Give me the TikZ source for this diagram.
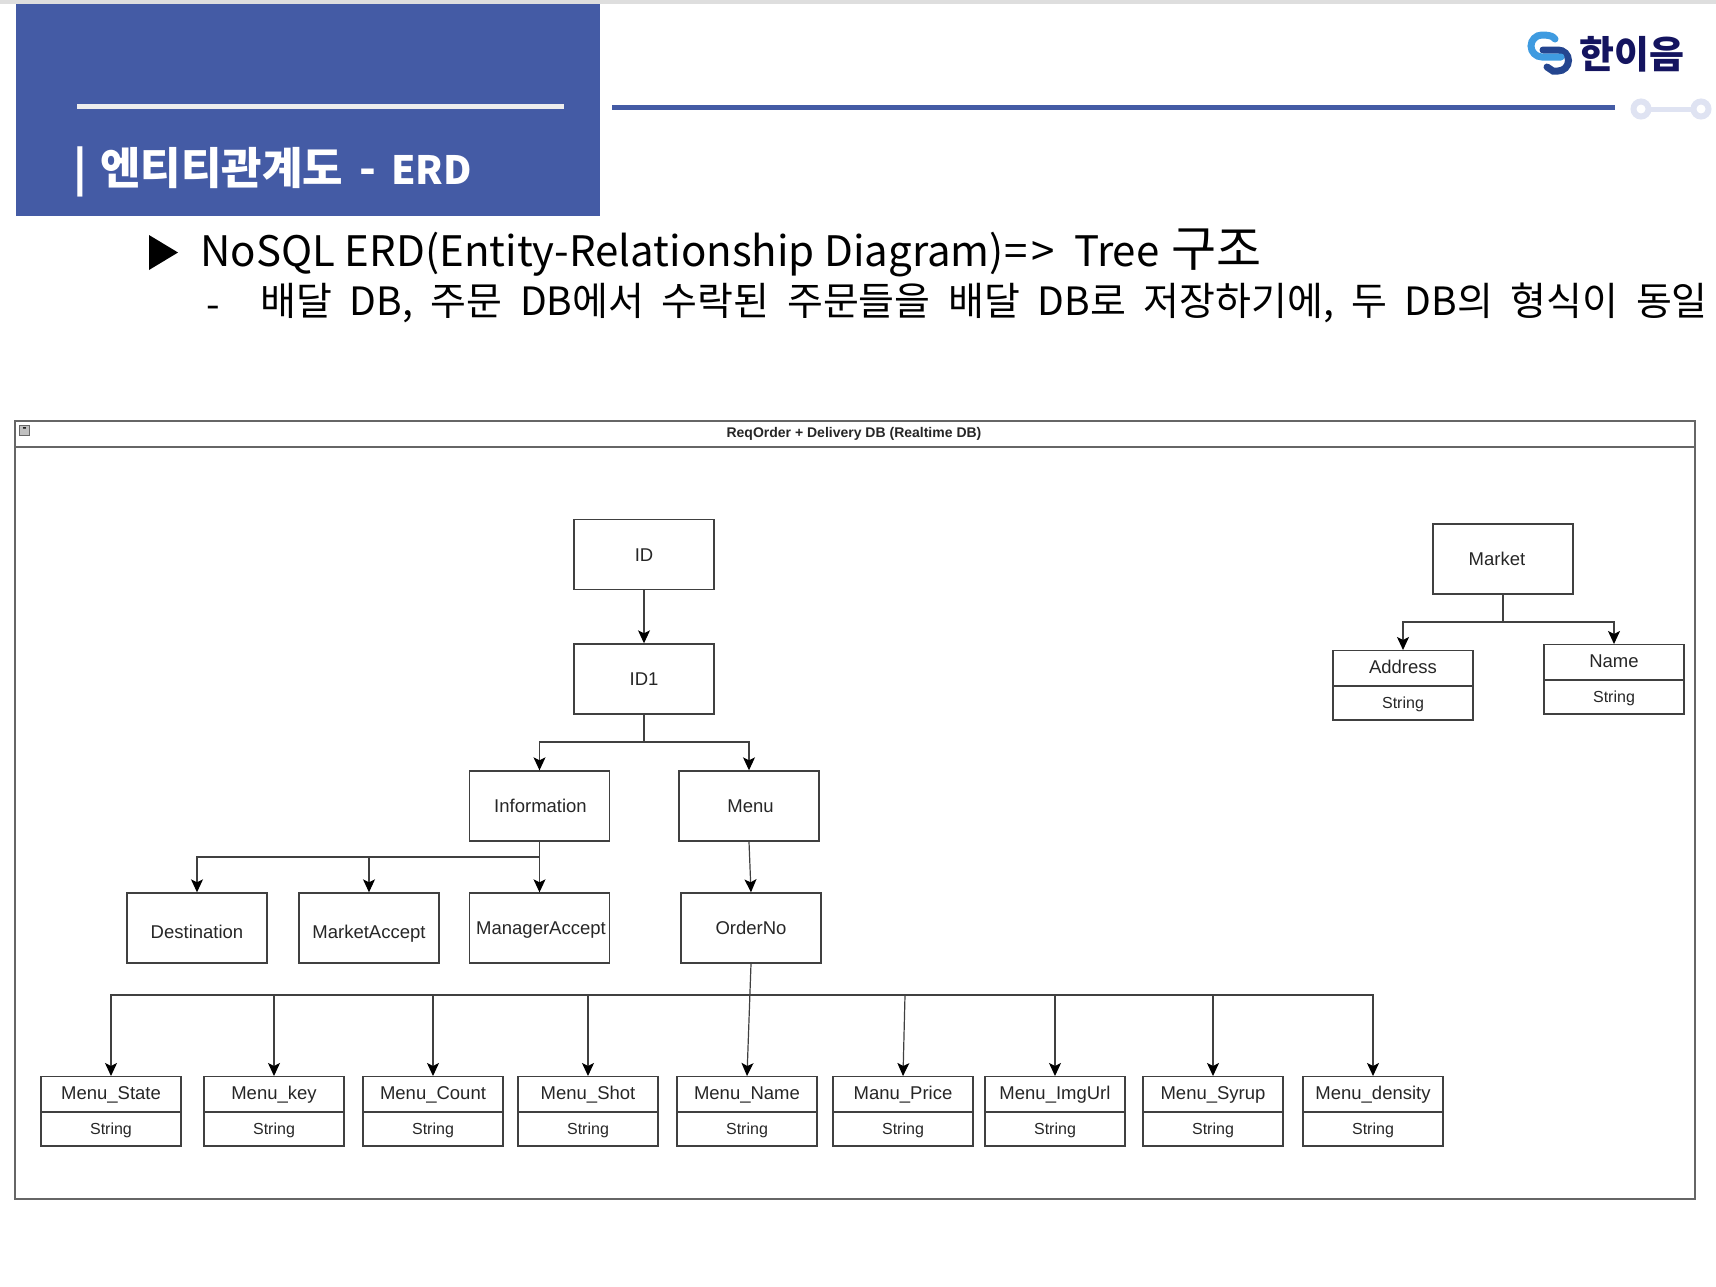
\documentclass[tikz,border=0pt]{standalone}
\usepackage{fontspec}
\setmainfont{Liberation Sans}
\newfontfamily\krfont{Noto Sans CJK KR}
\usetikzlibrary{arrows.meta,shapes.multipart}

\definecolor{slideblue}{HTML}{445BA5}
\definecolor{framegray}{HTML}{666666}
\definecolor{logolight}{HTML}{3F9BE0}
\definecolor{logodark}{HTML}{24458F}
\definecolor{logotext}{HTML}{14145F}
\definecolor{ringpale}{HTML}{DFE3F2}

\newcommand{\fieldtext}[1]{\vrule height 22.5pt depth 11.5pt width 0pt #1\nodepart{two}\fontsize{16}{18}\selectfont\vrule height 21.5pt depth 11pt width 0pt String}

\begin{document}
\begin{tikzpicture}[x=1pt,y=-1pt,
	entity/.style={rectangle, draw=black!75, line width=1.4pt, minimum width=140pt, minimum height=70pt, inner sep=0pt, text=black!85, text height=13pt, text depth=0pt, font=\fontsize{18.5}{20}\selectfont},
	lowtext/.style={text height=21pt},
	fieldbox/.style={rectangle split, rectangle split parts=2, draw=black!75, line width=1.4pt, minimum width=140pt, inner sep=0pt, text=black!85, font=\fontsize{18.5}{20}\selectfont, anchor=north},
	link/.style={draw=black!75, line width=1.2pt, -{Stealth[length=13pt,width=12pt,inset=3pt,color=black,fill=black]}}]
	\useasboundingbox (0,0) rectangle (1716,1286);

	% Slide header
	\fill[black!13] (0,0) rectangle (1716,4);
	\fill[slideblue] (16,4) rectangle (600,216);
	\fill[white!93!black] (77,104) rectangle (564,109);
	\fill[slideblue] (612,105) rectangle (1615,110);
	\node[anchor=west, text=white, font=\krfont\bfseries\fontsize{44}{46}\selectfont] (title) at (70,172) {|\kern3pt{} 엔티티관계도\hspace{6pt} - \hspace{5pt}{\fontsize{39}{42}\selectfont ERD}};

	% Ornament
	\draw[ringpale, line width=6pt] (1641,109) circle (7.5) (1701,109) circle (7.5);
	\draw[ringpale, line width=5pt] (1650,109) -- (1692,109);

	% Logo
	\draw[logodark, line width=7pt, line cap=round] (1543,50) -- (1558,50) arc (-90:90:10.5) -- (1553,71) -- (1547,67);
	\draw[logolight, line width=7pt, line cap=round] (1555,39) .. controls (1552,36) .. (1545,35) -- (1542,35) arc (-90:-270:11) -- (1561,57);
	\node[anchor=west, text=logotext, font=\krfont\bfseries\fontsize{38}{42}\selectfont] (logoname) at (1576,54) {한이음};

	% Bullets
	\fill[black] (149,235) -- (178,252.5) -- (149,270) -- cycle;
	\node[anchor=west, font=\krfont\fontsize{42}{48}\selectfont] (bulletone) at (197,253) {NoSQL ERD(Entity-Relationship Diagram)=\kern4pt>\kern10pt{} Tree\kern3pt{} {\fontsize{49}{50}\selectfont 구조}};
	\node[anchor=west, font=\krfont\fontsize{39}{42}\selectfont] (dash) at (203,312) {-};
	\node[anchor=west, font=\krfont\fontsize{39}{42}\selectfont] (bullettwo) at (257,303) {\spaceskip=17.6pt 배달 DB, 주문 DB에서 수락된 주문들을 배달 DB로 저장하기에, 두 DB의 형식이 동일};

	% Frame
	\draw[framegray, line width=1.8pt] (15,421) rectangle (1695,1199);
	\draw[framegray, line width=2pt] (15,447) -- (1695,447);
	\node[font=\bfseries\fontsize{14}{16}\selectfont, text=black!85] (frametitle) at (854,434) {ReqOrder + Delivery DB (Realtime DB)};
	\node[draw=framegray, fill=black!25, line width=0.8pt, minimum width=10pt, minimum height=10pt, inner sep=0pt, font=\bfseries\fontsize{12}{12}\selectfont] (minus) at (24.5,430) {-};

	% Tree nodes
	\node[entity] (id) at (644,554.5) {ID};
	\node[entity] (idone) at (644,679) {ID1};
	\node[entity] (info) at (539.5,806) {\hspace*{2pt}Information};
	\node[entity] (menu) at (749,806) {\hspace*{3pt}Menu};
	\node[entity,lowtext] (dest) at (197,928) {Destination};
	\node[entity,lowtext] (marketaccept) at (369,928) {MarketAccept};
	\node[entity] (manageraccept) at (539.5,928) {\hspace*{3pt}ManagerAccept};
	\node[entity] (orderno) at (751,928) {OrderNo};
	\node[entity] (market) at (1503,559) {Market\hspace*{12pt}};

	% Fields
	\foreach \fieldname/\fieldlabel/\xpos in {state/Menu\_State/111, key/Menu\_key/274, count/Menu\_Count/433, shot/Menu\_Shot/588, mname/Menu\_Name/747, price/Manu\_Price/903, imgurl/Menu\_ImgUrl/1055, syrup/Menu\_Syrup/1213, density/Menu\_density/1373}
		\node[fieldbox] (\fieldname) at (\xpos,1076) {\fieldtext{\fieldlabel}};
	\node[fieldbox] (address) at (1403,650) {\fieldtext{Address}};
	\node[fieldbox] (name) at (1614,644) {\fieldtext{Name}};

	% Connectors
	\coordinate (busid) at (644,742);
	\coordinate (businfo) at (539.5,857);
	\coordinate (busorder) at (750,995);
	\coordinate (busprice) at (905,995);
	\coordinate (busmarket) at (1503,622);
	\draw[link] (id) -- (idone);
	\draw[link] (idone.south) -- (busid) -| (info.north);
	\draw[link] (busid) -| (menu.north);
	\draw[link] (info.south) -- (manageraccept.north);
	\draw[link] (businfo) -| (dest.north);
	\draw[link] (businfo) -| (marketaccept.north);
	\draw[link] (menu.south) -- (orderno.north);
	\draw[link] (orderno.south) -- (mname.north);
	\foreach \fieldname in {state, key, count, shot, imgurl, syrup, density}
		\draw[link] (busorder) -| (\fieldname.north);
	\draw[draw=black!75, line width=1.2pt] (busorder) -- (busprice);
	\draw[link] (busprice) -- (price.north);
	\draw[link] (market.south) -- (busmarket) -| (address.north);
	\draw[link] (busmarket) -| (name.north);
\end{tikzpicture}
\end{document}
